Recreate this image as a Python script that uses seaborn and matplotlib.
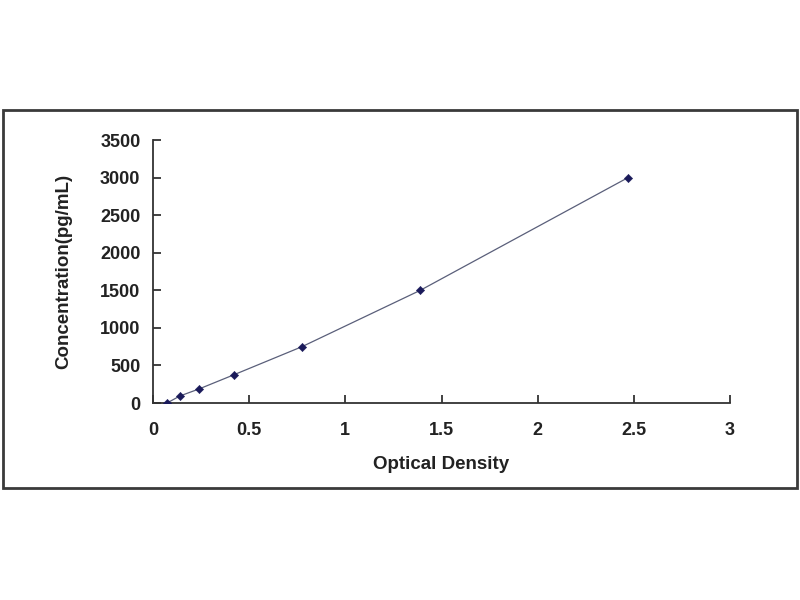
import matplotlib
matplotlib.use("Agg")
import matplotlib.pyplot as plt
import seaborn as sns
import pandas as pd
from matplotlib.patches import Rectangle

od = [0.073, 0.14, 0.24, 0.42, 0.775, 1.39, 2.47]
conc = [0, 93.75, 187.5, 375, 750, 1500, 3000]
x_ticks = [0, 0.5, 1, 1.5, 2, 2.5, 3]
x_labels = ["0", "0.5", "1", "1.5", "2", "2.5", "3"]
y_ticks = [0, 500, 1000, 1500, 2000, 2500, 3000, 3500]

sns.set_style("white")
plt.rcParams['font.family'] = ['Liberation Sans', 'DejaVu Sans']

df = pd.DataFrame({"Optical Density": od, "Concentration(pg/mL)": conc})

fig = plt.figure(figsize=(8, 6), dpi=100)
ax = fig.add_axes([0.19125, 0.32833, 0.72125, 0.43833])

sns.lineplot(data=df, x="Optical Density", y="Concentration(pg/mL)", ax=ax,
             color="#5a5f7a", linewidth=0.9, sort=True)
sns.scatterplot(data=df, x="Optical Density", y="Concentration(pg/mL)", ax=ax,
                color="#1a1a5a", marker="D", s=18, edgecolor="#1a1a5a", zorder=3)

ax.set_xlim(0, 3)
ax.set_ylim(0, 3500)
ax.set_xticks(x_ticks)
ax.set_xticklabels(x_labels)
ax.set_yticks(y_ticks)
for sp in ["top", "right"]:
    ax.spines[sp].set_visible(False)
for sp in ["left", "bottom"]:
    ax.spines[sp].set_color("#333333")
    ax.spines[sp].set_linewidth(1.3)
ax.tick_params(axis="both", direction="in", length=6, width=1.3, color="#333333",
               labelsize=13, left=True, bottom=True)
ax.tick_params(axis="x", pad=14)
ax.tick_params(axis="y", pad=9)
for lbl in ax.get_xticklabels() + ax.get_yticklabels():
    lbl.set_fontweight("bold")
    lbl.set_color("#222222")
ax.set_xlabel("Optical Density", fontsize=13.5, fontweight="bold", color="#222222", labelpad=12)
ax.set_ylabel("Concentration(pg/mL)", fontsize=13.5, fontweight="bold", color="#222222", labelpad=20)

border = Rectangle((0.004, 0.1867), 0.992, 0.63, transform=fig.transFigure,
                   fill=False, edgecolor="#3a3a3a", linewidth=2)
fig.patches.append(border)

fig.savefig("out.png", dpi=100)
